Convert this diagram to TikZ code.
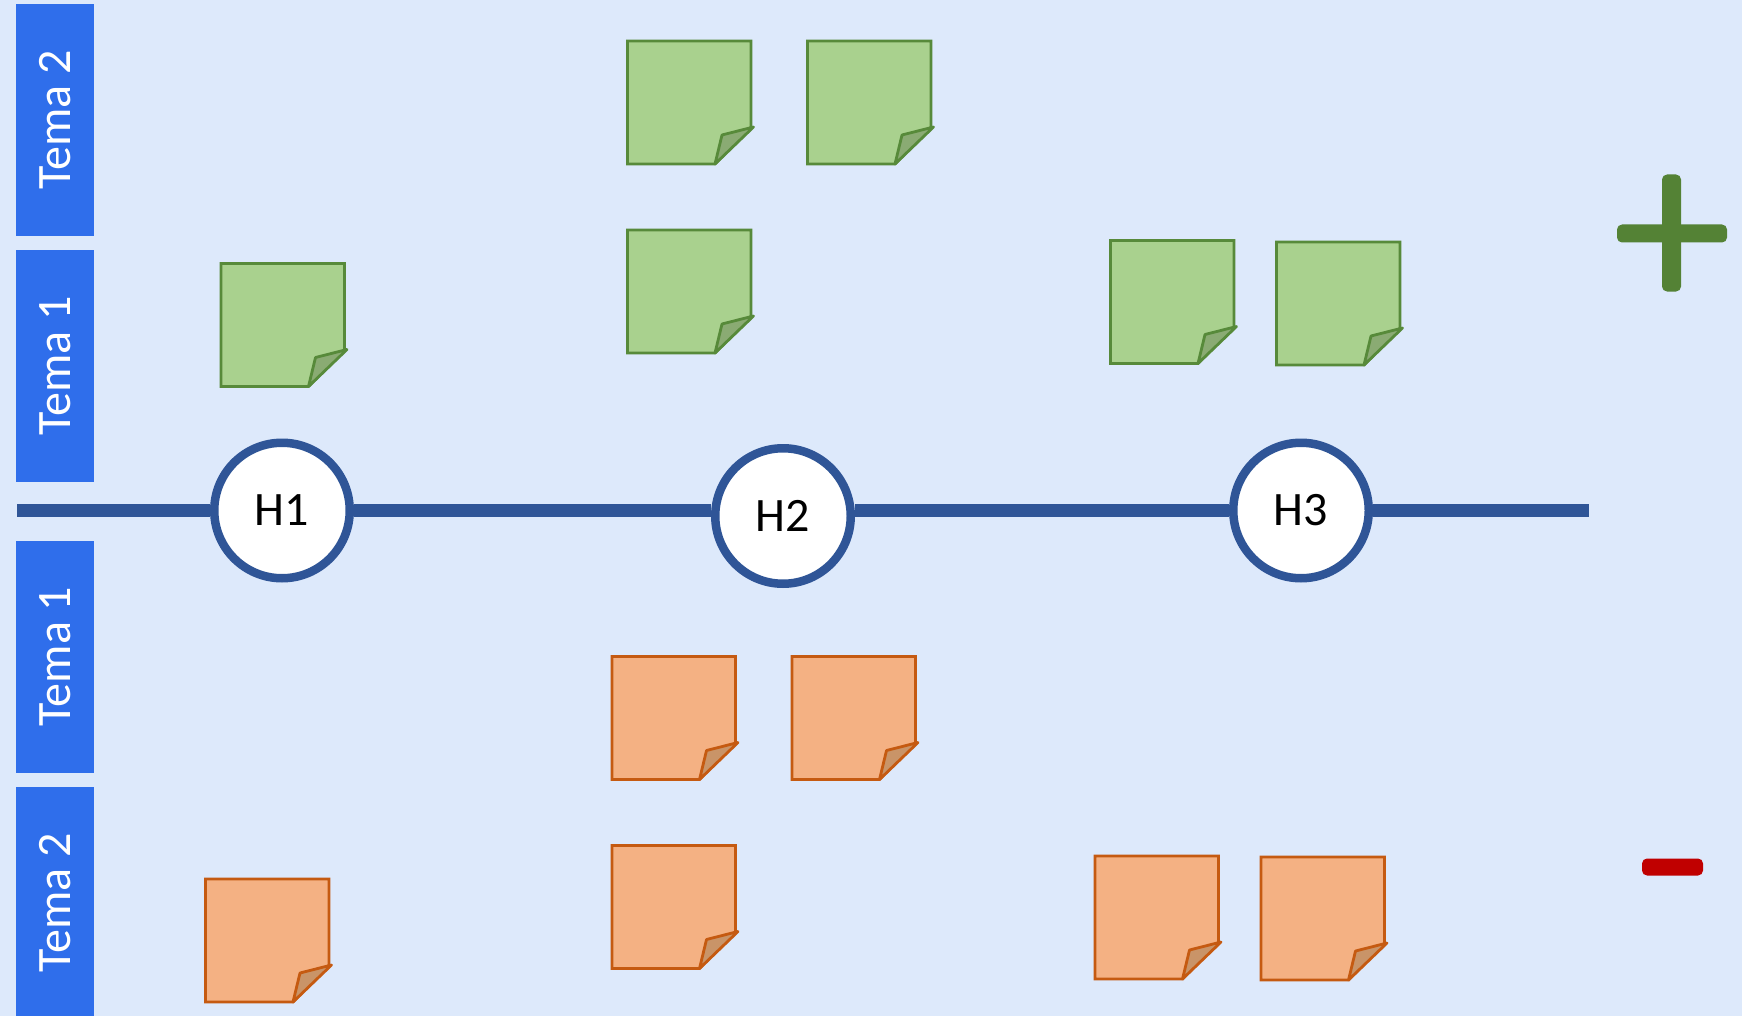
\documentclass[tikz,border=0pt]{standalone}
\usepackage{fontspec}
\setmainfont{Carlito}
\definecolor{bgc}{HTML}{DDE9FB}
\definecolor{barc}{HTML}{2F6EEB}
\definecolor{linec}{HTML}{2F5597}
\definecolor{greenfill}{HTML}{A9D18E}
\definecolor{greenedge}{HTML}{578A3A}
\definecolor{greenfold}{HTML}{8AAB73}
\definecolor{orangefill}{HTML}{F4B183}
\definecolor{orangeedge}{HTML}{C55A11}
\definecolor{orangefold}{HTML}{C99468}
\definecolor{plusc}{HTML}{548235}
\definecolor{minusc}{HTML}{C00000}
\newcommand{\sticky}[3]{%
  \begin{scope}[shift={(#1,#2)},line width=2.8pt,draw=#3edge,line join=miter,miter limit=3]
    \filldraw[fill=#3fill] (0,0) -- (123.5,0) -- (123.5,86) -- (87.5,123) -- (0,123) -- cycle;
    \filldraw[fill=#3fold,line join=round] (87.5,123) -- (94.5,94) -- (126,86) -- cycle;
  \end{scope}}
\tikzset{
  bandlabel/.style={fill=barc,text=white,rotate=90,minimum width=232pt,minimum height=78pt,inner sep=0pt,outer sep=0pt,font=\fontsize{48}{48}\selectfont},
  hcircle/.style={circle,draw=linec,fill=white,line width=8.5pt,minimum size=135.5pt,inner sep=0pt,font=\fontsize{48}{48}\selectfont},
  axisline/.style={draw=linec,line width=12.5pt}
}
\begin{document}
\begin{tikzpicture}[x=1pt,y=-1pt]
  \useasboundingbox (0,0) rectangle (1742,1016);
  \clip (0,0) rectangle (1742,1016);
  \fill[bgc] (0,0) rectangle (1742,1016);
  % side bands
  \node[bandlabel] (b1) at (55,120) {Tema 2};
  \node[bandlabel] (b2) at (55,366) {Tema 1};
  \node[bandlabel] (b3) at (55,656.5) {Tema 1};
  \node[bandlabel] (b4) at (55,903) {Tema 2};
  % timeline
  \node[hcircle] (H1) at (282,510.5) {H1};
  \node[hcircle] (H2) at (783,516) {H2};
  \node[hcircle] (H3) at (1301,510.5) {H3};
  \coordinate (axisstart) at (17,510.5);
  \coordinate (axisend) at (1589,510.5);
  \draw[axisline] (axisstart) -- (H1.west);
  \draw[axisline] (H1.east) -- (H2.west |- H1.east);
  \draw[axisline] (H2.east |- H3.west) -- (H3.west);
  \draw[axisline] (H3.east) -- (axisend);
  % green notes
  \sticky{627.5}{41}{green}
  \sticky{807.5}{41}{green}
  \sticky{627.5}{230}{green}
  \sticky{221}{263.5}{green}
  \sticky{1110.5}{240.5}{green}
  \sticky{1276.5}{242}{green}
  % orange notes
  \sticky{612}{656.5}{orange}
  \sticky{792}{656.5}{orange}
  \sticky{612}{845.5}{orange}
  \sticky{205.5}{879}{orange}
  \sticky{1095}{856}{orange}
  \sticky{1261}{857}{orange}
  % plus and minus
  \fill[plusc,rounded corners=5pt] (1617,224.5) rectangle (1727,242.5);
  \fill[plusc,rounded corners=5pt] (1662,174.5) rectangle (1681,291.5);
  \fill[minusc,rounded corners=5pt] (1642,858.5) rectangle (1703,875.5);
\end{tikzpicture}
\end{document}
